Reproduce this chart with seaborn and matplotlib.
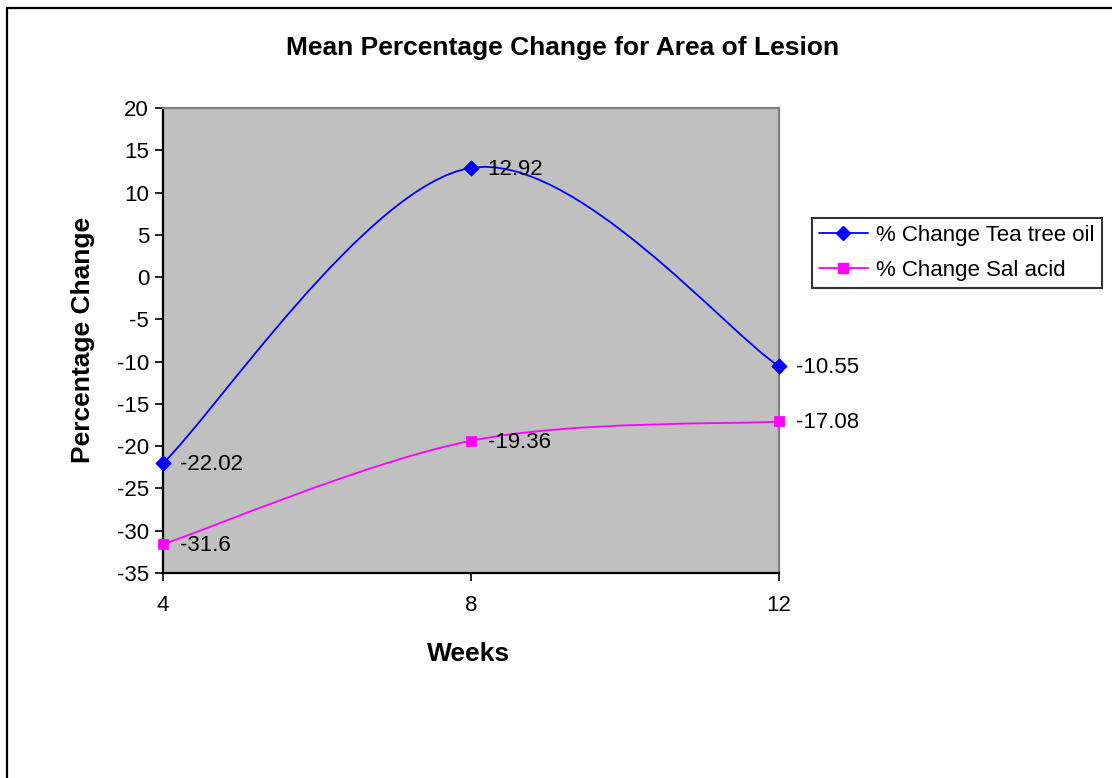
import numpy as np
import pandas as pd
import matplotlib.pyplot as plt
import seaborn as sns
from matplotlib.path import Path
from matplotlib.patches import PathPatch
from matplotlib.lines import Line2D

# ─── Data ─────────────────────────────────────────────────────────────
weeks = [4, 8, 12]
tea_tree = [-22.02, 12.92, -10.55]
sal_acid = [-31.6, -19.36, -17.08]
series_names = ["% Change Tea tree oil", "% Change Sal acid"]

BLUE = "#0000FF"
MAGENTA = "#FF00FF"
FIG_W, FIG_H = 1112, 778


def smooth_path(xs, ys):
    """Excel-like smoothed line: cubic Bezier segments (Catmull-Rom, 1/6 factor)."""
    pts = np.column_stack([xs, ys]).astype(float)
    n = len(pts)
    verts = [pts[0]]
    codes = [Path.MOVETO]
    for i in range(n - 1):
        p_prev = pts[i - 1] if i > 0 else pts[i]
        p_next2 = pts[i + 2] if i + 2 < n else pts[i + 1]
        c1 = pts[i] + (pts[i + 1] - p_prev) / 6.0
        c2 = pts[i + 1] - (p_next2 - pts[i]) / 6.0
        verts += [c1, c2, pts[i + 1]]
        codes += [Path.CURVE4] * 3
    return Path(verts, codes)


sns.set_style("white")
plt.rcParams['font.family'] = ['Liberation Sans', 'DejaVu Sans']
plt.rcParams.update({
    'axes.unicode_minus': False,
    'text.color': 'black',
    'axes.labelcolor': 'black',
    'xtick.color': 'black',
    'ytick.color': 'black',
})

fig = plt.figure(figsize=(FIG_W / 100, FIG_H / 100), dpi=100)
ax = fig.add_axes([163 / FIG_W, 1 - 573 / FIG_H, (779 - 163) / FIG_W, (573 - 108) / FIG_H])
ax.set_facecolor("#C0C0C0")

df = pd.DataFrame({
    "week": weeks * 2,
    "value": tea_tree + sal_acid,
    "series": [series_names[0]] * 3 + [series_names[1]] * 3,
})

# smoothed lines
for vals, col in [(tea_tree, BLUE), (sal_acid, MAGENTA)]:
    ax.add_patch(PathPatch(smooth_path(weeks, vals), facecolor="none",
                           edgecolor=col, lw=1.3, zorder=3))

# markers
sns.scatterplot(data=df[df.series == series_names[0]], x="week", y="value",
                marker="D", s=60, color=BLUE, edgecolor=BLUE, ax=ax,
                zorder=4, legend=False, clip_on=False)
sns.scatterplot(data=df[df.series == series_names[1]], x="week", y="value",
                marker="s", s=45, color=MAGENTA, edgecolor=MAGENTA, ax=ax,
                zorder=4, legend=False, clip_on=False)

# data labels
for vals in (tea_tree, sal_acid):
    for w, v in zip(weeks, vals):
        ax.annotate(f"{v:g}", (w, v), xytext=(12, -1), textcoords="offset points",
                    ha="left", va="center", fontsize=16, color="black",
                    annotation_clip=False, zorder=5)

ax.set_xlim(4, 12)
ax.set_ylim(-35, 20)
ax.set_xticks(weeks)
ax.set_xticklabels([str(w) for w in weeks])
ax.set_yticks(np.arange(-35, 21, 5))
ax.tick_params(axis="both", direction="out", length=6, width=1.2,
               labelsize=16, colors="black", bottom=True, left=True)
ax.tick_params(axis="y", pad=4)
ax.tick_params(axis="x", pad=10)
ax.set_xlabel("")
ax.set_ylabel("")

for side in ("left", "bottom"):
    ax.spines[side].set_color("black")
    ax.spines[side].set_linewidth(1.6)
for side in ("top", "right"):
    ax.spines[side].set_color("#808080")
    ax.spines[side].set_linewidth(1.6)
    ax.spines[side].set_visible(True)

# texts
fig.text(563 / FIG_W, 1 - 48 / FIG_H, "Mean Percentage Change for Area of Lesion",
         ha="center", va="center", fontsize=19, fontweight="bold", color="black")
fig.text(469 / FIG_W, 1 - 654 / FIG_H, "Weeks", ha="center", va="center",
         fontsize=19, fontweight="bold", color="black")
fig.text(83 / FIG_W, 1 - 340 / FIG_H, "Percentage Change", ha="center", va="center",
         rotation=90, fontsize=19, fontweight="bold", color="black")

# legend
handles = [
    Line2D([], [], color=BLUE, lw=1.3, marker="D", markersize=7),
    Line2D([], [], color=MAGENTA, lw=1.3, marker="s", markersize=7),
]
leg = fig.legend(handles, series_names, loc="upper left",
                 bbox_to_anchor=(812 / FIG_W, 1 - 218 / FIG_H),
                 bbox_transform=fig.transFigure, fontsize=16, frameon=True,
                 fancybox=False, shadow=False, borderaxespad=0,
                 handlelength=2.2, handletextpad=0.4, labelspacing=0.65,
                 borderpad=0.3)
leg.get_frame().set_edgecolor("black")
leg.get_frame().set_linewidth(1.5)

# outer chart border (top and left only visible)
fig.add_artist(Line2D([7 / FIG_W, 7 / FIG_W], [0, 1 - 8 / FIG_H],
                      transform=fig.transFigure, color="black", lw=1.6))
fig.add_artist(Line2D([7 / FIG_W, 1], [1 - 8 / FIG_H, 1 - 8 / FIG_H],
                      transform=fig.transFigure, color="black", lw=1.6))

fig.savefig("out.png", dpi=100, facecolor="white")
